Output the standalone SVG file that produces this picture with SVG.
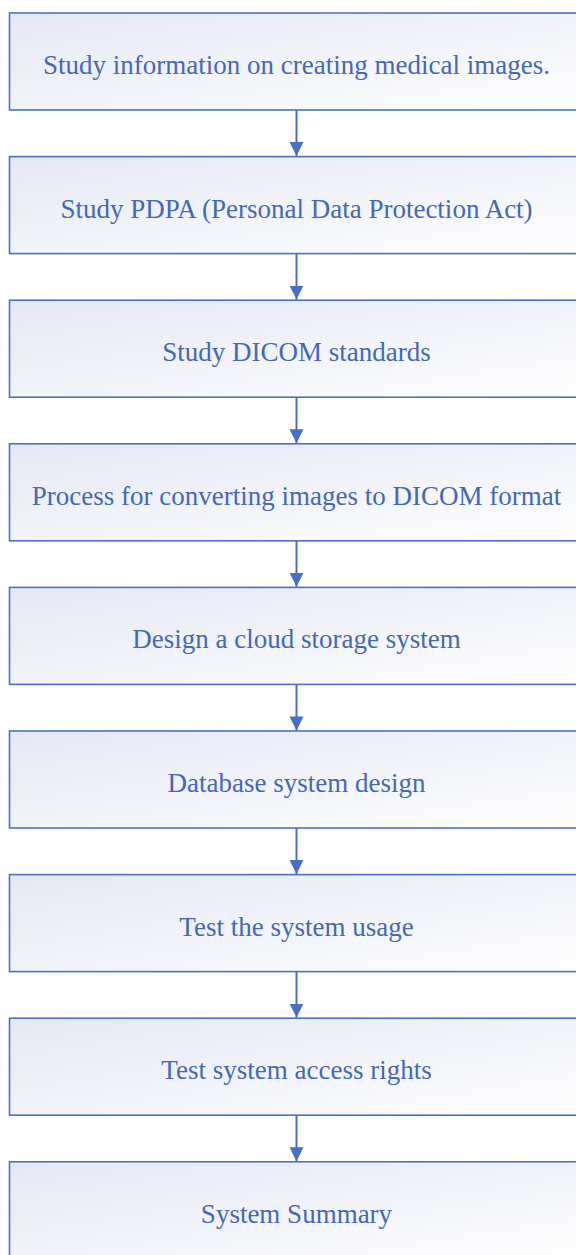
<svg xmlns="http://www.w3.org/2000/svg" width="576" height="1255" viewBox="0 0 576 1255">
  <defs>
    <linearGradient id="boxFill" x1="0" y1="0" x2="1" y2="1">
      <stop offset="0" stop-color="#e5e8f4"/>
      <stop offset="1" stop-color="#ffffff"/>
    </linearGradient>
    <marker id="arrow" markerUnits="userSpaceOnUse" markerWidth="16" markerHeight="16" viewBox="0 0 16 16" refX="14" refY="8" orient="auto">
      <path d="M0,1 L14,8 L0,15 Z" fill="#4670c6"/>
    </marker>
  </defs>
  <style>
    .box { fill: url(#boxFill); stroke: #4a72c4; stroke-width: 1.6; }
    .label { font-family: "Liberation Serif", "Times New Roman", serif; font-size: 27px; fill: #4468b6; text-anchor: middle; }
    .conn { stroke: #4670c6; stroke-width: 2; fill: none; marker-end: url(#arrow); }
  </style>
  <rect width="576" height="1255" fill="#ffffff"/>

  <!-- process steps -->
  <g id="step1">
    <rect class="box" x="9.5" y="13" width="610" height="97"/>
    <text class="label" x="296.5" y="74">Study information on creating medical images.</text>
  </g>
  <g id="step2">
    <rect class="box" x="9.5" y="156.6" width="610" height="97"/>
    <text class="label" x="296.5" y="217.6">Study PDPA (Personal Data Protection Act)</text>
  </g>
  <g id="step3">
    <rect class="box" x="9.5" y="300.2" width="610" height="97"/>
    <text class="label" x="296.5" y="361.2">Study DICOM standards</text>
  </g>
  <g id="step4">
    <rect class="box" x="9.5" y="443.8" width="610" height="97"/>
    <text class="label" x="296.5" y="504.8">Process for converting images to DICOM format</text>
  </g>
  <g id="step5">
    <rect class="box" x="9.5" y="587.4" width="610" height="97"/>
    <text class="label" x="296.5" y="648.4">Design a cloud storage system</text>
  </g>
  <g id="step6">
    <rect class="box" x="9.5" y="731" width="610" height="97"/>
    <text class="label" x="296.5" y="792">Database system design</text>
  </g>
  <g id="step7">
    <rect class="box" x="9.5" y="874.6" width="610" height="97"/>
    <text class="label" x="296.5" y="935.6">Test the system usage</text>
  </g>
  <g id="step8">
    <rect class="box" x="9.5" y="1018.2" width="610" height="97"/>
    <text class="label" x="296.5" y="1079.2">Test system access rights</text>
  </g>
  <g id="step9">
    <rect class="box" x="9.5" y="1161.8" width="610" height="97"/>
    <text class="label" x="296.5" y="1222.8">System Summary</text>
  </g>

  <!-- connectors -->
  <g id="connectors">
    <line class="conn" x1="296.5" y1="110" x2="296.5" y2="156"/>
    <line class="conn" x1="296.5" y1="253.6" x2="296.5" y2="299.6"/>
    <line class="conn" x1="296.5" y1="397.2" x2="296.5" y2="443.2"/>
    <line class="conn" x1="296.5" y1="540.8" x2="296.5" y2="586.8"/>
    <line class="conn" x1="296.5" y1="684.4" x2="296.5" y2="730.4"/>
    <line class="conn" x1="296.5" y1="828" x2="296.5" y2="874"/>
    <line class="conn" x1="296.5" y1="971.6" x2="296.5" y2="1017.6"/>
    <line class="conn" x1="296.5" y1="1115.2" x2="296.5" y2="1161.2"/>
  </g>
</svg>
